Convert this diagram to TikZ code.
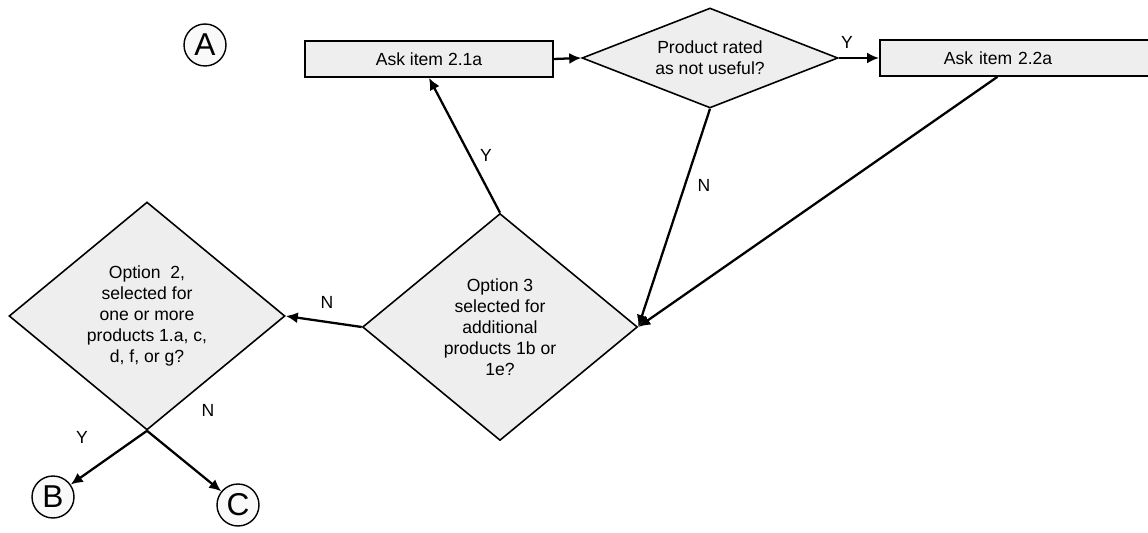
\documentclass[tikz,border=0pt]{standalone}
\usepackage{fontspec}
\setmainfont{Liberation Sans}
\usepackage{tikz}
\usetikzlibrary{shapes.geometric,arrows.meta}

\begin{document}
\begin{tikzpicture}[x=0.02cm,y=-0.02cm,
    every node/.style={font=\fontsize{10}{12}\selectfont},
    askbox/.style={draw,line width=1pt,fill=gray!13,minimum width=4.96cm,minimum height=0.72cm,inner sep=0pt},
    testbox/.style={draw,line width=0.9pt,fill=gray!13,diamond,inner sep=0pt,align=center},
    endpoint/.style={draw,line width=0.8pt,fill=gray!5,circle,minimum size=0.84cm,inner sep=0pt,font=\fontsize{18}{18}\selectfont},
    flow/.style={line width=1.3pt,-{Latex[length=2.4mm,width=2.2mm]}},
    yn/.style={font=\fontsize{10}{12}\selectfont}]
    \useasboundingbox (0,0) rectangle (1148,533);

    % draw connector circles
    \node[endpoint] (A) at (205,45) {A};
    \node[endpoint] (B) at (53,497) {B};
    \node[endpoint] (C) at (238,505) {C};

    % draw boxes
    \node[askbox] (ask21) at (429,59) {Ask item 2.1a};
    \node[askbox,anchor=west,text width=2.86cm,inner xsep=1.28cm,align=left] (ask22) at (879,58) {Ask item 2.2a};

    % draw tests
    \node[testbox,aspect=2.56,minimum width=5.12cm,minimum height=2.0cm] (rated) at (710,58) {Product rated\\as not useful?};
    \node[testbox,minimum width=5.5cm,minimum height=4.54cm] (opt3) at (500,327) {Option 3\\selected for\\additional\\products 1b or\\1e?};
    \node[testbox,minimum width=5.52cm,minimum height=4.56cm] (opt2) at (147,316) {Option\ \ 2,\\selected for\\one or more\\products 1.a, c,\\d, f, or g?};

    % draw arrows
    \draw[flow] (ask21.east) -- (rated.west);
    \draw[flow] (rated.east) -- (ask22.west);
    \draw[flow] (rated.south) -- (opt3.east);
    \draw[flow] ([xshift=-0.36cm]ask22.south) -- (opt3.east);
    \draw[flow] (opt3.north) -- (ask21.south);
    \draw[flow] (opt3.west) -- (opt2.east);
    \draw[flow] (opt2.south) -- (B);
    \draw[flow] (opt2.south) -- (C);

    % draw labels
    \node[yn] (y1) at (847,42) {Y};
    \node[yn] (n1) at (704,185) {N};
    \node[yn] (y2) at (486,155) {Y};
    \node[yn] (n2) at (327,302) {N};
    \node[yn] (y3) at (82,437) {Y};
    \node[yn] (n3) at (208,410) {N};

\end{tikzpicture}
\end{document}
